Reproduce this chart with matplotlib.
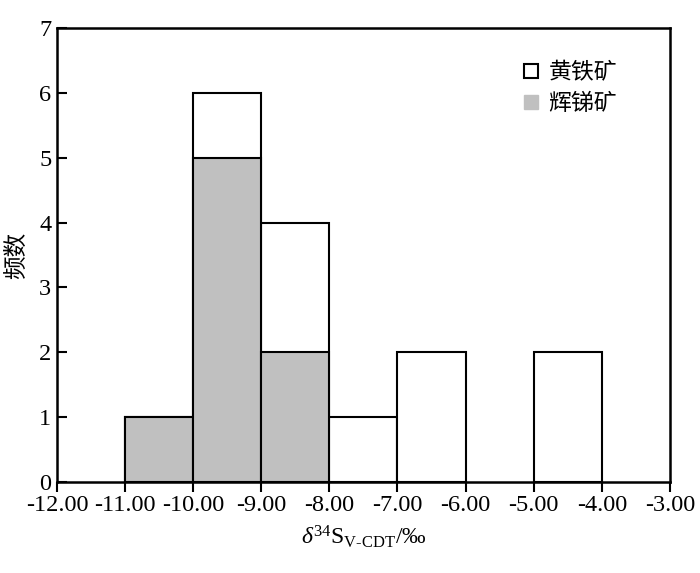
import numpy as np
import matplotlib.pyplot as plt
from matplotlib.lines import Line2D

plt.rcParams['font.family'] = ['Liberation Serif', 'Noto Sans CJK SC']
plt.rcParams['mathtext.fontset'] = 'custom'
plt.rcParams['mathtext.rm'] = 'Liberation Serif'
plt.rcParams['mathtext.it'] = 'Liberation Serif:italic'

# bins (left edges, width 1 permil)
bin_left = [-11, -10, -9, -8, -7, -6, -5]
pyrite_total = [1, 6, 4, 1, 2, 0, 2]     # 黄铁矿 (total height incl. stibnite)
stibnite = [1, 5, 2, 0, 0, 0, 0]         # 辉锑矿
xticks = [-12, -11, -10, -9, -8, -7, -6, -5, -4, -3]

fig = plt.figure(figsize=(7, 5.73), dpi=100)
ax = fig.add_axes([0.0814, 0.1588, 0.8756, 0.7922])

for x, h in zip(bin_left, pyrite_total):
    if h > 0:
        ax.bar(x, h, width=1, align='edge', color='white', edgecolor='black', linewidth=1.5)
for x, h in zip(bin_left, stibnite):
    if h > 0:
        ax.bar(x, h, width=1, align='edge', color='#c0c0c0', edgecolor='black', linewidth=1.5)

ax.set_xlim(-12, -3)
ax.set_ylim(0, 7)
ax.set_xticks(xticks)
ax.set_xticklabels(['%.2f' % t for t in xticks], fontsize=17.5)
ax.set_yticks(range(8))
ax.set_yticklabels([str(i) for i in range(8)], fontsize=17.5)
ax.tick_params(axis='x', direction='out', length=7, width=1.5, pad=2)
ax.tick_params(axis='y', direction='in', length=7, width=1.5, pad=4)
for s in ax.spines.values():
    s.set_linewidth(1.8)

ax.set_xlabel(r'$\delta^{34}$S$_{\rm V\text{-}CDT}$/‰', fontsize=17, labelpad=6)
ax.set_ylabel('频数', fontsize=17, family=['Noto Sans CJK SC'], labelpad=8)

handles = [
    Line2D([], [], marker='s', linestyle='none', markersize=10, markerfacecolor='white',
           markeredgecolor='black', markeredgewidth=1.5),
    Line2D([], [], marker='s', linestyle='none', markersize=10, markerfacecolor='#c0c0c0',
           markeredgecolor='#c0c0c0'),
]
ax.legend(handles, ['黄铁矿', '辉锑矿'], loc='upper left', bbox_to_anchor=(0.755, 0.928),
          frameon=False, prop={'family': 'Noto Sans CJK SC', 'size': 16.5},
          handletextpad=0.25, labelspacing=0.38, handlelength=1.0,
          borderpad=0, borderaxespad=0)

fig.savefig('out.png', dpi=100)
